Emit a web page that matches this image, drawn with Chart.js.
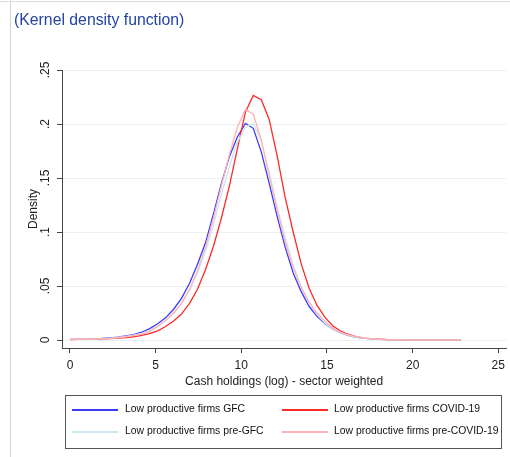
<!DOCTYPE html>
<html><head><meta charset="utf-8">
<script src="https://cdn.jsdelivr.net/npm/chart.js@4"></script>
<style>
html,body{margin:0;padding:0;background:#fff;}
#wrap{position:relative;width:510px;height:457px;overflow:hidden;font-family:"Liberation Sans",Arial,sans-serif;}
#c{position:absolute;left:0;top:0;}
#frameL{position:absolute;left:10px;top:0;width:1px;height:457px;background:#d4d4d4;}
#frameT{position:absolute;left:0;top:1px;width:510px;height:1px;background:#dcdcdc;}
#legend{position:absolute;left:65px;top:395px;width:437px;height:54px;border:1px solid #555;box-sizing:border-box;}
.txt{position:absolute;font-size:10.4px;line-height:12px;color:#111;white-space:nowrap;}
.sw{position:absolute;height:1.6px;}
</style>
</head><body>
<div id="wrap">
<canvas id="c" width="510" height="457"></canvas>
<div id="frameL"></div><div id="frameT"></div>
<div id="legend"></div>
</div>
<script>
const xs=[0.00,0.47,0.93,1.40,1.86,2.33,2.79,3.26,3.72,4.19,
4.65,5.12,5.58,6.05,6.51,6.98,7.44,7.91,8.38,8.84,
9.31,9.77,10.24,10.70,11.17,11.63,12.10,12.56,13.03,13.49,
13.96,14.42,14.89,15.35,15.82,16.29,16.75,17.22,17.68,18.15,
18.61,19.08,19.54,20.01,20.47,20.94,21.40,21.87,22.33,22.80];

const gfc=[0.0005,0.0006,0.0008,0.0010,0.0014,0.0020,0.0027,0.0037,0.0050,0.0072,
0.0105,0.0150,0.0205,0.0285,0.0385,0.0525,0.0700,0.0900,0.1170,0.1450,
0.1700,0.1880,0.2005,0.1960,0.1740,0.1450,0.1140,0.0860,0.0620,0.0450,
0.0310,0.0220,0.0150,0.0100,0.0065,0.0040,0.0025,0.0015,0.0010,0.0006,
0.0004,0.0003,0.0002,0.0002,0.0001,0.0001,0.0001,0.0001,0.0001,0.0001];

const covid=[0.0004,0.0005,0.0006,0.0008,0.0010,0.0013,0.0017,0.0023,0.0030,0.0042,
0.0060,0.0085,0.0125,0.0175,0.0240,0.0340,0.0470,0.0650,0.0870,0.1130,
0.1430,0.1770,0.2110,0.2265,0.2225,0.2040,0.1700,0.1320,0.1000,0.0710,
0.0480,0.0320,0.0210,0.0130,0.0080,0.0050,0.0030,0.0018,0.0011,0.0007,
0.0004,0.0003,0.0002,0.0002,0.0001,0.0001,0.0001,0.0001,0.0001,0.0001];

const preGfc=[0.0005,0.0006,0.0007,0.0009,0.0012,0.0017,0.0024,0.0033,0.0045,0.0062,
0.0090,0.0130,0.0180,0.0250,0.0340,0.0460,0.0620,0.0820,0.1070,0.1350,
0.1610,0.1830,0.1970,0.2005,0.1840,0.1550,0.1230,0.0950,0.0690,0.0490,
0.0340,0.0235,0.0155,0.0100,0.0065,0.0040,0.0025,0.0015,0.0010,0.0006,
0.0004,0.0003,0.0002,0.0002,0.0001,0.0001,0.0001,0.0001,0.0001,0.0001];

const preCovid=[0.0005,0.0006,0.0007,0.0009,0.0012,0.0016,0.0022,0.0030,0.0041,0.0055,
0.0080,0.0125,0.0180,0.0250,0.0340,0.0470,0.0640,0.0860,0.1130,0.1430,
0.1720,0.1970,0.2135,0.2090,0.1850,0.1520,0.1200,0.0910,0.0670,0.0490,
0.0350,0.0250,0.0170,0.0110,0.0070,0.0045,0.0028,0.0017,0.0011,0.0007,
0.0004,0.0003,0.0002,0.0002,0.0001,0.0001,0.0001,0.0001,0.0001,0.0001];

const seriesLabels=['Low productive firms GFC','Low productive firms COVID-19','Low productive firms pre-GFC','Low productive firms pre-COVID-19'];
const seriesColors=['#3b3bff','#ff2b2b','#c9e6f1','#ffb3b3'];
const xTicks=[0,5,10,15,20,25];
const yTicks=[0,0.05,0.1,0.15,0.2,0.25];
const yTickLabels=['0','.05','.1','.15','.2','.25'];
const titleText='(Kernel density function)';
const xTitle='Cash holdings (log) - sector weighted';
const yTitle='Density';

Chart.defaults.font.family='"Liberation Sans", Arial, sans-serif';
const allSeries=[gfc,covid,preGfc,preCovid];
const drawOrder=[3,2,1,0];
const datasets=allSeries.map((ys,k)=>({
  label:seriesLabels[k],
  data:xs.map((x,i)=>({x:x,y:ys[i]})),
  borderColor:seriesColors[k],
  borderWidth:1.3,
  pointRadius:0,
  tension:0,
  fill:false,
  order:drawOrder[k]
}));

new Chart(document.getElementById('c'),{
  type:'line',
  data:{datasets:datasets},
  options:{
    responsive:false,animation:false,
    layout:{padding:{left:14,right:2,top:0,bottom:68}},
    plugins:{
      legend:{display:false},tooltip:{enabled:false},
      title:{display:true,text:titleText,align:'start',color:'#2444a3',
        font:{size:15.8,weight:'normal'},padding:{top:11,bottom:40.04}}
    },
    scales:{
      x:{type:'linear',min:-0.465,max:25.465,
        afterBuildTicks:s=>{s.ticks=xTicks.map(v=>({value:v}));},
        afterFit:s=>{s.height=41;},
        ticks:{color:'#222',font:{size:12},padding:5,maxRotation:0,autoSkip:false,callback:v=>String(v)},
        grid:{drawOnChartArea:false,tickLength:5,tickColor:'#444',color:'#444'},
        border:{color:'#444',width:1},
        title:{display:true,text:xTitle,color:'#222',font:{size:12},padding:{top:0,bottom:0}}
      },
      y:{type:'linear',min:-0.0074,max:0.25,
        afterBuildTicks:s=>{s.ticks=yTicks.map(v=>({value:v}));},
        afterFit:s=>{s.width=48;},
        ticks:{color:'#222',font:{size:12},padding:3,minRotation:90,maxRotation:90,crossAlign:'center',autoSkip:false,
          callback:(v,i)=>yTickLabels[i]},
        grid:{color:'#e9f1f1',tickColor:'#444',tickLength:5,lineWidth:1},
        border:{color:'#444',width:1},
        title:{display:true,text:yTitle,color:'#222',font:{size:12},padding:{top:12,bottom:0}}
      }
    }
  }
});

const leg=document.getElementById('legend');
const pos=[[0,0],[1,0],[0,1],[1,1]];
seriesLabels.forEach((lab,k)=>{
  const col=pos[k][0],row=pos[k][1];
  const lineX=col?216:6, txtX=col?268:59, yy=row?36:14;
  const sw=document.createElement('div');
  sw.className='sw';
  sw.style.left=lineX+'px';sw.style.top=(yy-1)+'px';sw.style.width='46px';
  sw.style.background=seriesColors[k];
  leg.appendChild(sw);
  const t=document.createElement('div');
  t.className='txt';t.textContent=lab;
  t.style.left=txtX+'px';t.style.top=(yy-7)+'px';
  leg.appendChild(t);
});
</script>
</body></html>
